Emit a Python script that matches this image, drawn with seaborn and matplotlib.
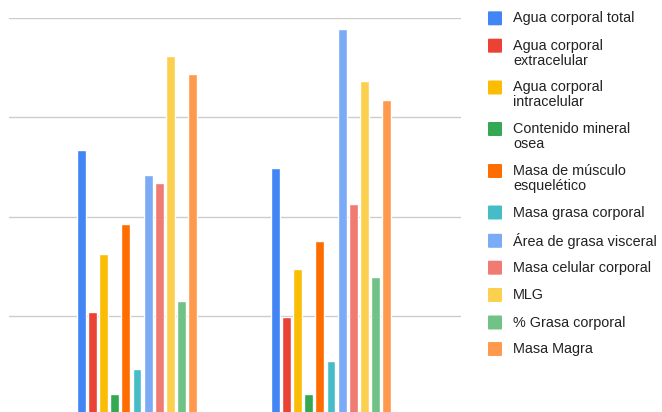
import matplotlib
matplotlib.use("Agg")
import matplotlib.pyplot as plt
from matplotlib.patches import FancyBboxPatch
import pandas as pd
import seaborn as sns

# Body-composition measures, two groups
groups = ["Grupo 1", "Grupo 2"]
series = [
    "Agua corporal total",
    "Agua corporal\nextracelular",
    "Agua corporal\nintracelular",
    "Contenido mineral\nosea",
    "Masa de músculo\nesquelético",
    "Masa grasa corporal",
    "Área de grasa visceral",
    "Masa celular corporal",
    "MLG",
    "% Grasa corporal",
    "Masa Magra",
]
group1_values = [53.5, 20.7, 32.5, 4.3, 38.5, 9.3, 48.5, 46.8, 72.3, 23.0, 68.8]
group2_values = [49.8, 19.8, 29.5, 4.3, 35.1, 10.8, 77.8, 42.6, 67.3, 27.8, 63.6]
colors = ["#4285F4", "#EA4335", "#FBBC04", "#34A853", "#FF6D01", "#46BDC6",
          "#7BAAF7", "#F07B72", "#FCD04F", "#71C287", "#FF994D"]
y_ticks = [0, 20, 40, 60, 80]

rows = []
for g, vals in zip(groups, [group1_values, group2_values]):
    for s, v in zip(series, vals):
        rows.append({"grupo": g, "medida": s, "valor": v})
df = pd.DataFrame(rows)

sns.set_theme(style="white")
plt.rcParams["font.family"] = ["Liberation Sans", "DejaVu Sans"]

W, H = 662, 412
fig = plt.figure(figsize=(W / 100, H / 100), dpi=100)
ax = fig.add_axes([9 / W, -3 / H, 452 / W, (415 - 18.3) / H])

sns.barplot(data=df, x="grupo", y="valor", hue="medida", hue_order=series,
            order=groups, palette=colors, width=0.63, gap=0.2,
            legend=False, ax=ax, saturation=1)

ax.set_xlim(-0.66, 1.67)
ax.set_ylim(y_ticks[0], y_ticks[-1])
ax.set_yticks(y_ticks)
ax.yaxis.grid(True, color="#cccccc", linewidth=1.0)
ax.set_axisbelow(True)
ax.tick_params(left=False, bottom=False, labelleft=False, labelbottom=False)
ax.set_xlabel("")
ax.set_ylabel("")
for sp in ax.spines.values():
    sp.set_visible(False)

# Legend on the right: a colour square beside each (possibly two-line) label
row_centers = [18.3, 45.7, 87.5, 129, 171, 212.5, 240.8, 267.7, 295, 322.5, 349]
sq = 14
for label, col, yc in zip(series, colors, row_centers):
    patch = FancyBboxPatch((488 / W, (H - yc - sq / 2) / H), sq / W, sq / H,
                           boxstyle="round,pad=0,rounding_size=0.002",
                           transform=fig.transFigure, facecolor=col,
                           edgecolor="none")
    fig.patches.append(patch)
    for i, line in enumerate(label.split("\n")):
        fig.text(513 / W, (H - yc - 15 * i) / H, line, fontsize=10.4,
                 color="#222222", va="center", ha="left")

fig.savefig("out.png", dpi=100)
